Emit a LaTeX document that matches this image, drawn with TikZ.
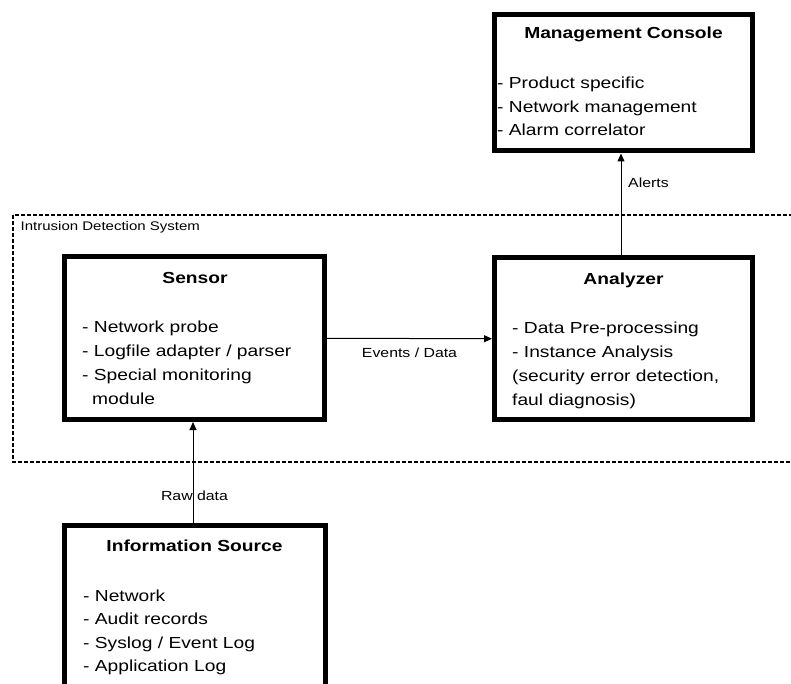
\documentclass[tikz,border=0pt]{standalone}
\usepackage{fontspec}
\setmainfont{Liberation Sans}[FakeStretch=1.2]
\usetikzlibrary{arrows.meta}
\tikzset{
  box/.style={draw=black, line width=5pt, fill=white, inner sep=0pt},
  ttl/.style={font=\bfseries\fontsize{16}{19}\selectfont, anchor=base, inner sep=0pt},
  itm/.style={font=\fontsize{16}{19}\selectfont, anchor=base west, inner sep=0pt},
  lbl/.style={font=\fontsize{13.2}{16}\selectfont, anchor=base, inner sep=0pt},
  conn/.style={draw=black, line width=1pt, -{Triangle[length=8pt,width=7pt]}},
  region/.style={draw=black, line width=1.2pt, dash pattern=on 4pt off 2pt}
}
\begin{document}
\begin{tikzpicture}[x=1pt,y=-1pt]
\useasboundingbox (0,0) rectangle (791,684);
\clip (0,0) rectangle (791,684);
% IDS region
\draw[region] (13,215) rectangle (810,462);
\node[font=\fontsize{12.5}{15}\selectfont, anchor=base west, inner sep=0pt] (ids) at (20.5,231) {Intrusion Detection System};
% boxes
\node[box, minimum width=258pt, minimum height=136.5pt] (mc) at (623.5,82.75) {};
\node[box, minimum width=260pt, minimum height=162.5pt] (sensor) at (194,338.25) {};
\node[box, minimum width=258pt, minimum height=161.5pt] (analyzer) at (623.5,338.75) {};
\node[box, minimum width=261pt, minimum height=235pt] (info) at (194.5,642.5) {};
% Management Console text
\node[ttl] (mct) at (623.5,39) {Management Console};
\node[itm] (mc1) at (497,89) {- Product specific};
\node[itm] (mc2) at (497,112.5) {- Network management};
\node[itm] (mc3) at (497,136) {- Alarm correlator};
% Sensor text
\node[ttl] (st) at (195,283) {Sensor};
\node[itm] (s1) at (82,332) {- Network probe};
\node[itm] (s2) at (82,356.5) {- Logfile adapter / parser};
\node[itm] (s3) at (82,380.5) {- Special monitoring};
\node[itm] (s4) at (92,404) {module};
% Analyzer text
\node[ttl] (at) at (623.5,284) {Analyzer};
\node[itm] (a1) at (512,333) {- Data Pre-processing};
\node[itm] (a2) at (512,357) {- Instance Analysis};
\node[itm] (a3) at (512,381) {(security error detection,};
\node[itm] (a4) at (512,405) {faul diagnosis)};
% Information Source text
\node[ttl] (it) at (194.5,551) {Information Source};
\node[itm] (i1) at (83,601) {- Network};
\node[itm] (i2) at (83,624.5) {- Audit records};
\node[itm] (i3) at (83,648) {- Syslog / Event Log};
\node[itm] (i4) at (83,671.5) {- Application Log};
% connectors
\draw[conn] (sensor.east) -- (analyzer.west);
\draw[conn] (analyzer.north -| 621,0) -- (mc.south -| 621,0);
\draw[conn] (info.north -| 193,0) -- (sensor.south -| 193,0);
% labels
\node[lbl] (ed) at (409.5,357) {Events / Data};
\node[lbl, anchor=base west] (al) at (628,188) {Alerts};
\node[lbl] (rd) at (194.5,500) {Raw data};
\end{tikzpicture}
\end{document}
